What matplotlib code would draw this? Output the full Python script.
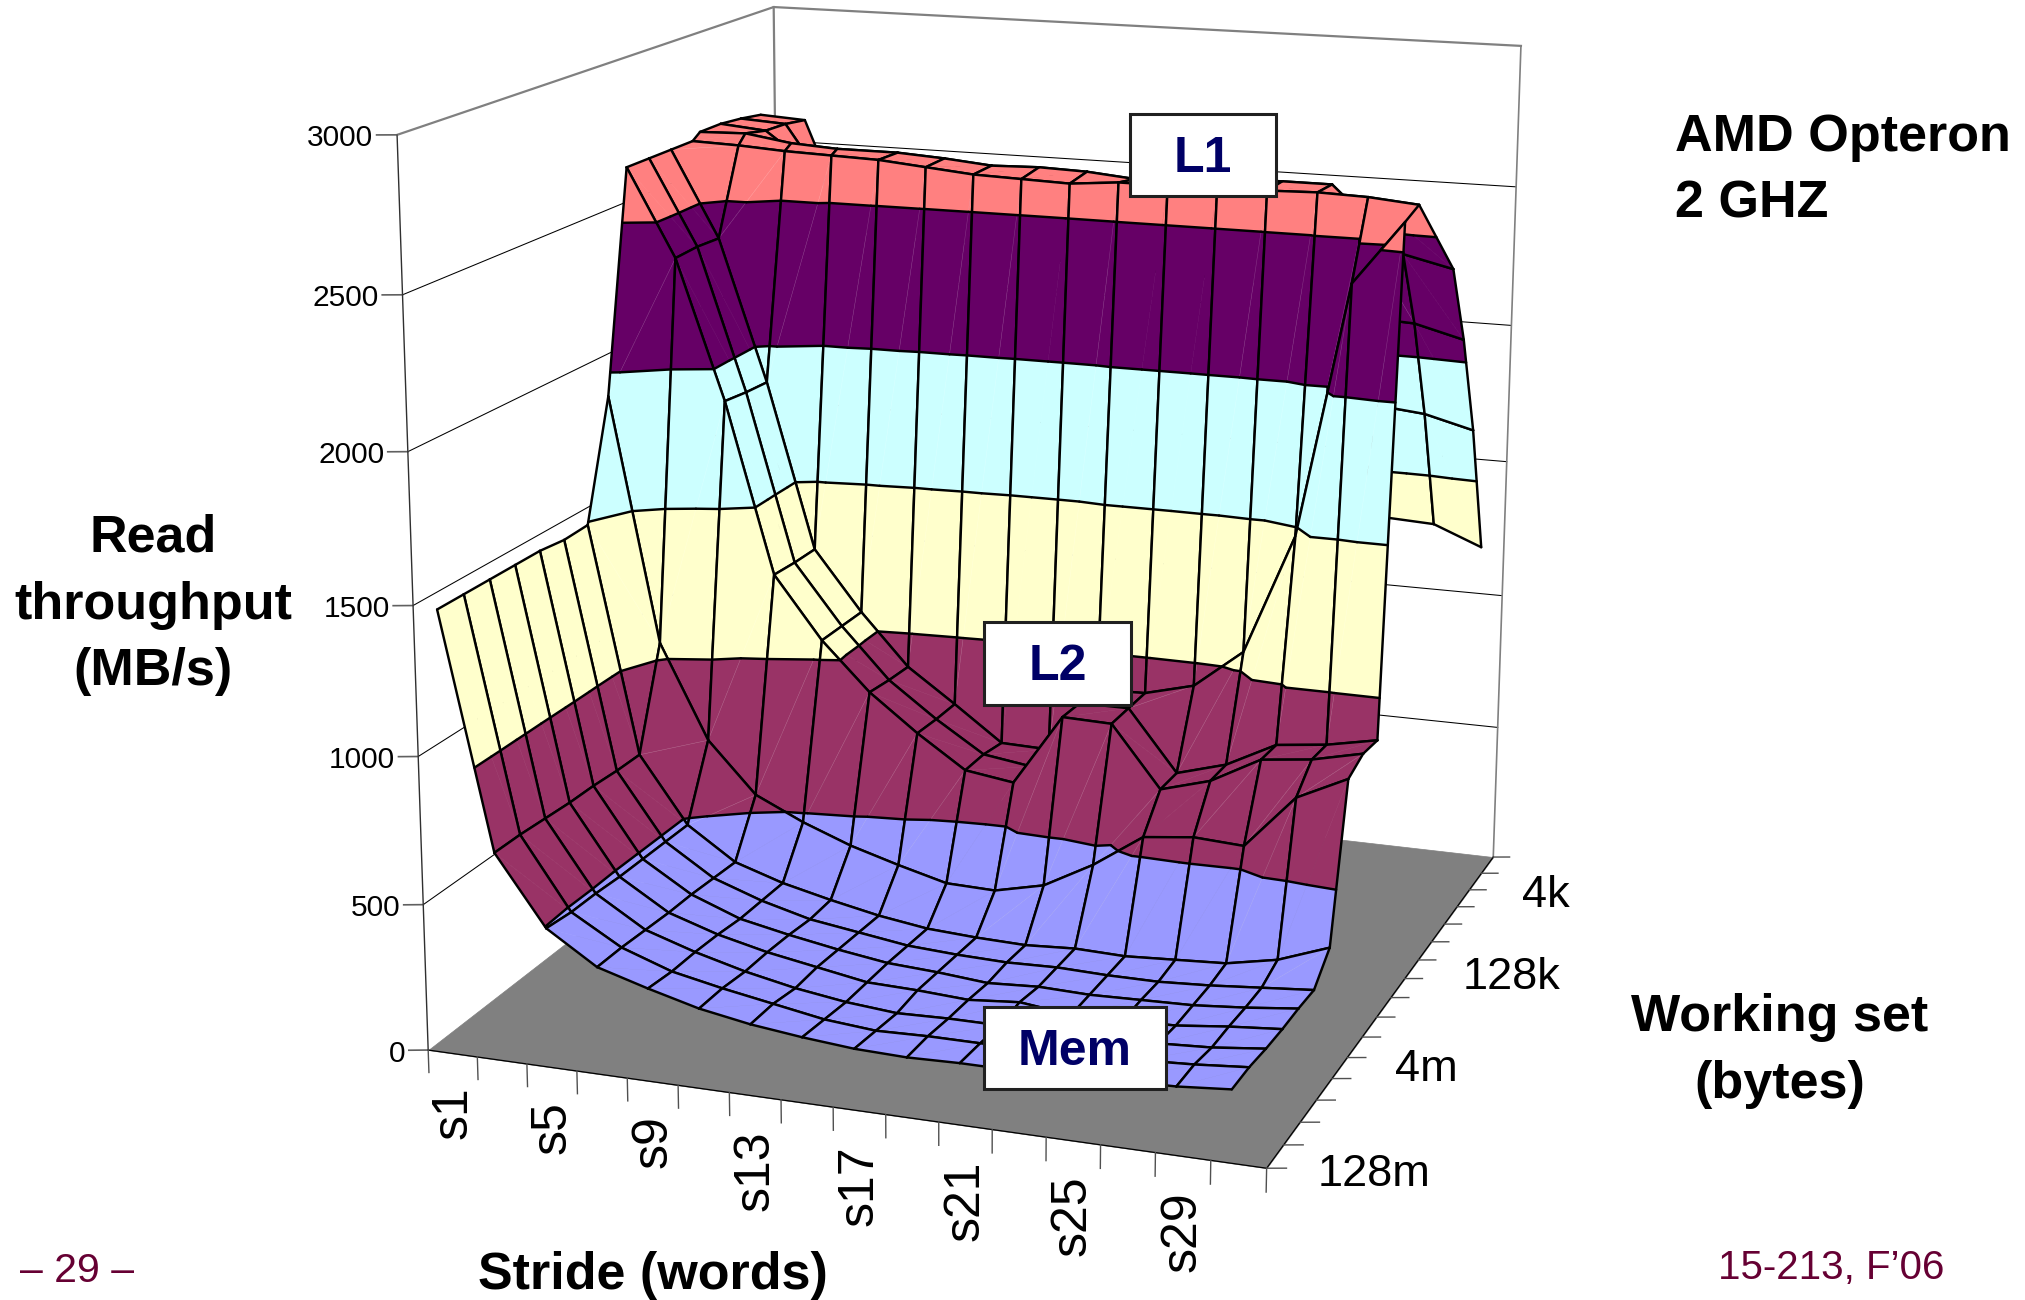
import numpy as np
import matplotlib
matplotlib.use('Agg')
from matplotlib import pyplot as plt
from matplotlib.patches import Rectangle
from mpl_toolkits.mplot3d import proj3d
from mpl_toolkits.mplot3d.art3d import Poly3DCollection, Line3DCollection

plt.rcParams['font.family'] = ['Liberation Sans', 'DejaVu Sans']

strides = ['s1', 's3', 's5', 's7', 's9', 's11', 's13', 's15',
           's17', 's19', 's21', 's23', 's25', 's27', 's29', 's31']
working_set = ['128m', '64m', '32m', '16m', '8m', '4m', '2m', '1024k',
               '512k', '256k', '128k', '64k', '32k', '16k', '8k', '4k']

# read throughput in MB/s, one row per working set, one column per stride
ws_128m = [1465, 670, 435, 325, 275, 230, 200, 180, 165, 160, 165, 165, 170, 180, 185, 200]
ws_64m = [1465, 670, 425, 325, 265, 230, 200, 170, 155, 160, 160, 160, 165, 175, 185, 200]
ws_32m = [1465, 665, 425, 320, 265, 220, 185, 160, 145, 150, 150, 140, 150, 160, 170, 190]
ws_16m = [1465, 660, 420, 315, 260, 220, 190, 160, 155, 145, 160, 140, 145, 150, 170, 185]
ws_8m = [1465, 660, 420, 315, 250, 215, 185, 160, 150, 135, 145, 140, 145, 150, 165, 185]
ws_4m = [1455, 655, 420, 310, 250, 205, 180, 155, 145, 140, 145, 140, 140, 150, 165, 180]
ws_2m = [1460, 655, 420, 305, 250, 210, 175, 150, 140, 135, 145, 140, 150, 160, 195, 260]
ws_1024k = [1870, 1005, 670, 490, 410, 345, 295, 250, 245, 285, 380, 500, 520, 510, 700, 785]
ws_512k = [2635, 2330, 1840, 1235, 1015, 845, 715, 600, 575, 830, 825, 610, 660, 755, 775, 815]
ws_256k = [2635, 2335, 1830, 1230, 1015, 835, 710, 600, 575, 825, 825, 610, 660, 750, 770, 805]
ws_128k = [2635, 2330, 1825, 1230, 1015, 830, 710, 585, 580, 820, 825, 870, 1010, 1440, 2330, 2550]
ws_64k = [2635, 2630, 2620, 2615, 2610, 2595, 2580, 2575, 2570, 2585, 2585, 2590, 2590, 2595, 2590, 2575]
ws_32k = [2635, 2640, 2615, 2605, 2605, 2595, 2580, 2585, 2580, 2565, 2585, 2585, 2590, 2590, 2365, 2325]
ws_16k = [2635, 2620, 2500, 2540, 2535, 2525, 2510, 2510, 2505, 2490, 2510, 2515, 2515, 2095, 2085, 2040]
ws_8k = [2625, 2615, 2380, 2400, 2395, 2385, 2375, 2370, 2365, 2350, 2370, 2375, 2375, 1740, 1720, 1675]
ws_4k = [2610, 2600, 2200, 2190, 2190, 2165, 2140, 2135, 2125, 2120, 2115, 2110, 2105, 1280, 1270, 1200]

throughput = np.array([ws_128m, ws_64m, ws_32m, ws_16m, ws_8m, ws_4m, ws_2m, ws_1024k,
                       ws_512k, ws_256k, ws_128k, ws_64k, ws_32k, ws_16k, ws_8k, ws_4k], float)

z_ticks = [0, 500, 1000, 1500, 2000, 2500, 3000]
# the coloured bands sit a little below the wall grid in the picture
band_levels = [0, 440, 950, 1470, 1950, 2450, 3000]
band_colors = ['#9999FF', '#993366', '#FFFFCC', '#CCFFFF', '#660066', '#FF8080']

nx = len(strides)
ny = len(working_set)
zmax = z_ticks[-1]

fig = plt.figure(figsize=(20.25, 13), dpi=100)
ax = fig.add_axes([239.2/2025, 15.0/1300, 1472.3/2025, 1472.3/1300], projection='3d')
ax.set_xlim(0, nx, view_margin=0)
ax.set_ylim(0, ny, view_margin=0)
ax.set_zlim(0, zmax, view_margin=0)
ax.view_init(14.85, -70.5732, -0.1392)
ax.set_proj_type('persp', focal_length=0.5351)
ax.set_box_aspect((1.0197, 1.0948, 1.0827))
ax.set_axis_off()
ax.patch.set_alpha(0)
ax.computed_zorder = False

def clip_band(tri, lo, hi):
    # cut a triangle down to the part between two z levels
    poly = [np.array(p) for p in tri]
    for level, keep_above in ((lo, True), (hi, False)):
        out = []
        for i in range(len(poly)):
            a, b = poly[i], poly[(i+1) % len(poly)]
            a_in = a[2] >= level if keep_above else a[2] <= level
            b_in = b[2] >= level if keep_above else b[2] <= level
            if a_in:
                out.append(a)
            if a_in != b_in:
                out.append(a + (b-a)*(level-a[2])/(b[2]-a[2]))
        poly = out
        if not poly:
            break
    return poly

def level_segment(tri, level):
    pts = []
    for i in range(3):
        a, b = np.array(tri[i]), np.array(tri[(i+1) % 3])
        if (a[2]-level)*(b[2]-level) < 0:
            pts.append(a + (b-a)*(level-a[2])/(b[2]-a[2]))
    return pts if len(pts) == 2 else None

# walls: grid lines and frame
x0, x1, y0, y1 = 0, nx, 0, ny
for z in z_ticks[1:-1]:
    ax.plot([x0, x0, x1], [y0, y1, y1], [z, z, z], color='black', lw=0.75, zorder=1)
    ax.plot([x0-0.33, x0], [y0-0.12, y0], [z, z], color='#606060', lw=1.2, zorder=1)
ax.plot([x0, x0, x1], [y0, y1, y1], [zmax, zmax, zmax], color='#808080', lw=1.6, zorder=1)
ax.plot([x0, x0], [y1, y1], [0, zmax], color='#808080', lw=1.6, zorder=1)
ax.plot([x1, x1], [y1, y1], [0, zmax], color='#808080', lw=1.2, zorder=1)
ax.plot([x0, x0], [y0, y0], [0, zmax], color='#303030', lw=1.0, zorder=1)
ax.plot([x0-0.33, x0], [y0-0.12, y0], [zmax, zmax], color='#606060', lw=1.2, zorder=1)
ax.plot([x0-0.33, x0], [y0-0.12, y0], [0, 0], color='#606060', lw=1.2, zorder=1)

# floor
floor = Poly3DCollection([[(x0, y0, 0), (x1, y0, 0), (x1, y1, 0), (x0, y1, 0)]],
                         facecolors='#808080', edgecolors='#808080', linewidths=0.5, zorder=2)
ax.add_collection3d(floor, autolim=False)
ax.plot([x0, x1, x1], [y0, y0, y1], [0, 0, 0], color='black', lw=0.9, zorder=3)
for i in range(nx+1):
    ax.plot([i, i], [y0, y0], [0, -78], color='#505050', lw=1.0, zorder=3)
for j in range(ny+1):
    ax.plot([x1, x1+0.32], [j, j+0.11], [0, 0], color='#505050', lw=1.0, zorder=3)

def vertex(k, r):
    # the back rows sit a bit off the regular grid at both ends of the ridge
    x = k + 0.2
    if r >= 12 and k <= 3:
        x -= 0.3
    if r >= 13 and k == 13:
        x += 0.3
    if r >= 12 and k >= 14:
        x += 0.45
    return (x, r + 0.5, throughput[r, k])

# surface, back to front: camera is on the high-stride, large-working-set corner
order = 10
for r in range(ny-2, -1, -1):
    for k in range(nx-1):
        a, b = vertex(k, r), vertex(k+1, r)
        c, d = vertex(k+1, r+1), vertex(k, r+1)
        polys, cols, segs = [], [], []
        for tri in ((a, c, d), (a, b, c)):
            for n in range(len(band_colors)):
                piece = clip_band(tri, band_levels[n], band_levels[n+1])
                if len(piece) >= 3:
                    polys.append([tuple(p) for p in piece])
                    cols.append(band_colors[n])
            for level in band_levels[1:-1]:
                seg = level_segment(tri, level)
                if seg:
                    segs.append([tuple(p) for p in seg])
        cell = Poly3DCollection(polys, facecolors=cols, edgecolors=cols, linewidths=0.4, zorder=order)
        ax.add_collection3d(cell, autolim=False)
        order += 1
        if abs(a[2]+c[2]-b[2]-d[2]) > 40:
            diag = Line3DCollection([[a, c]], colors='white', linewidths=0.4, alpha=0.2, zorder=order)
            ax.add_collection3d(diag, autolim=False)
            order += 1
        segs += [[a, b], [b, c], [c, d], [d, a]]
        mesh = Line3DCollection(segs, colors='black', linewidths=1.75, capstyle='round', zorder=order)
        ax.add_collection3d(mesh, autolim=False)
        order += 1

ax.set_xlim(0, nx, view_margin=0)
ax.set_ylim(0, ny, view_margin=0)
ax.set_zlim(0, zmax, view_margin=0)
ax.apply_aspect()
M = ax.get_proj()

def label_3d(x, y, z, s, dy=0, **kw):
    # tick labels go on the figure, placed where the 3D point lands
    x2, y2, _ = proj3d.proj_transform(x, y, z, M)
    px, py = ax.transData.transform((x2, y2))
    fig.text(px/2025, (py+dy)/1300, s, **kw)

for z in z_ticks:
    label_3d(x0-0.39, y0-0.14, z, str(z), dy=-3.5, ha='right', va='center', fontsize=21.5)
for k in range(0, nx, 2):
    label_3d(k+0.5, y0, -115, strides[k], rotation=90, ha='center', va='top', fontsize=36)
for r in (0, 5, 10, 15):
    label_3d(x1+0.7, r+0.75, -60-3.8*r, working_set[r], ha='left', va='center', fontsize=32.5)

def px_text(x, y, s, **kw):
    fig.text(x/2025, 1-(y+4)/1300, s, **kw)

title_kw = dict(fontweight='bold', fontsize=37.5, color='black', linespacing=1.47, zorder=2000)
px_text(153, 601, 'Read\nthroughput\n(MB/s)', ha='center', va='center', **title_kw)
px_text(1780, 1047, 'Working set\n(bytes)', ha='center', va='center', **title_kw)
px_text(653, 1272, 'Stride (words)', ha='center', va='center', **title_kw)
px_text(1675, 167, 'AMD Opteron\n2 GHZ', ha='left', va='center', **title_kw)
px_text(77, 1267, '– 29 –', ha='center', va='center', fontsize=29.5, color='#660033')
px_text(1944, 1264, '15-213, F’06', ha='right', va='center', fontsize=29, color='#660033')

boxes = [('L1', 1130, 114, 1276, 196), ('L2', 984, 622, 1131, 705), ('Mem', 984, 1007, 1166, 1089)]
for name, bx0, by0, bx1, by1 in boxes:
    fig.add_artist(Rectangle((bx0/2025, 1-by1/1300), (bx1-bx0)/2025, (by1-by0)/1300,
                             transform=fig.transFigure, facecolor='white', edgecolor='#202020',
                             linewidth=2.2, zorder=2000))
    px_text((bx0+bx1)/2, (by0+by1)/2, name, ha='center', va='center', fontweight='bold',
            fontsize=36, color='#000066', zorder=2001)

fig.savefig('out.png', dpi=100)
